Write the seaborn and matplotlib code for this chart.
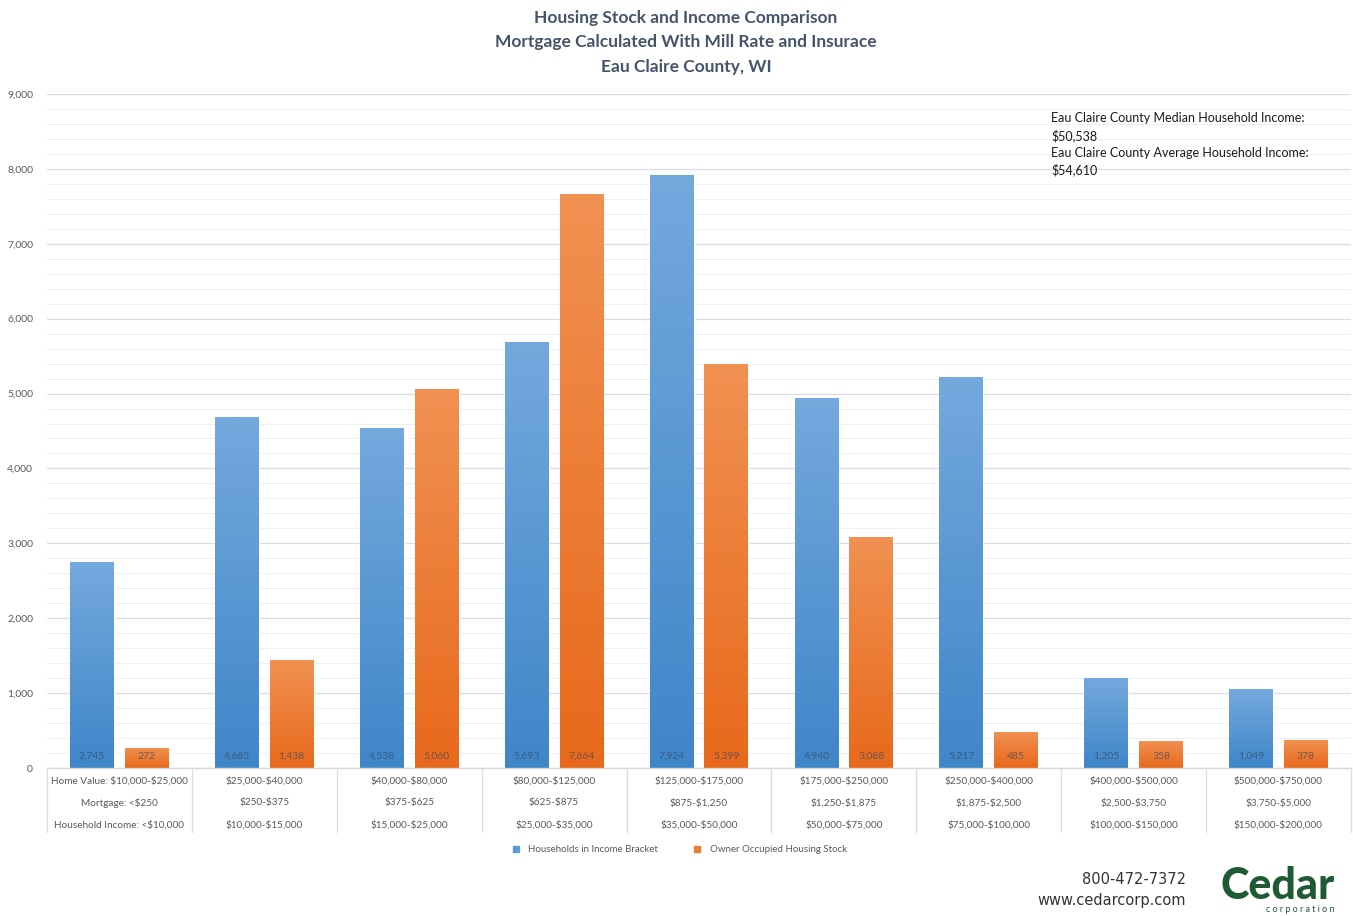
import numpy as np
import pandas as pd
import matplotlib
matplotlib.use("Agg")
import matplotlib.pyplot as plt
import matplotlib.transforms as mtransforms
from matplotlib.colors import LinearSegmentedColormap
from matplotlib.lines import Line2D
import seaborn as sns

# ---- data ----
home_values = ["$10,000-$25,000", "$25,000-$40,000", "$40,000-$80,000", "$80,000-$125,000",
               "$125,000-$175,000", "$175,000-$250,000", "$250,000-$400,000",
               "$400,000-$500,000", "$500,000-$750,000"]
mortgages = ["<$250", "$250-$375", "$375-$625", "$625-$875", "$875-$1,250",
             "$1,250-$1,875", "$1,875-$2,500", "$2,500-$3,750", "$3,750-$5,000"]
incomes = ["<$10,000", "$10,000-$15,000", "$15,000-$25,000", "$25,000-$35,000",
           "$35,000-$50,000", "$50,000-$75,000", "$75,000-$100,000",
           "$100,000-$150,000", "$150,000-$200,000"]
households = [2745, 4685, 4538, 5693, 7924, 4940, 5217, 1205, 1049]
owner_occupied = [272, 1438, 5060, 7664, 5399, 3088, 485, 358, 378]
series_names = ["Households in Income Bracket", "Owner Occupied Housing Stock"]

df = pd.DataFrame({
    "home": home_values * 2,
    "count": households + owner_occupied,
    "series": [series_names[0]] * len(households) + [series_names[1]] * len(owner_occupied),
})

sns.set_theme(style="white")
plt.rcParams["font.family"] = ["Lato", "DejaVu Sans"]

TXT = "#595959"
TITLE = "#44546a"
colors = {series_names[0]: "#5b9bd5", series_names[1]: "#ed7d31"}
grad = {
    series_names[0]: ("#3f86c9", "#74a9dd"),
    series_names[1]: ("#e8691b", "#f19152"),
}

fig = plt.figure(figsize=(13.53, 9.16), dpi=100)
ax = fig.add_axes([47 / 1353, 1 - 768 / 916, 1 - 47 / 1353 - 2 / 1353, (768 - 94) / 916])

sns.barplot(data=df, x="home", y="count", hue="series", order=home_values,
            hue_order=series_names, palette=colors, width=0.757, gap=0.2,
            ax=ax, legend=False, saturation=1)

ax.set_xlim(-0.5, len(home_values) - 0.5)
ax.set_ylim(0, 9000)
ax.set_yticks(np.arange(0, 9001, 1000))
ax.set_yticks(np.arange(0, 9001, 200), minor=True)
ax.set_yticklabels([f"{v:,}" for v in range(0, 9001, 1000)], fontsize=7.5, color=TXT)
ax.grid(axis="y", which="major", color="#d9dce3", lw=0.9)
ax.grid(axis="y", which="minor", color="#eef0f3", lw=0.8)
ax.set_axisbelow(True)
ax.tick_params(axis="y", which="both", length=0, pad=10)
ax.tick_params(axis="x", length=0)
ax.set_xticklabels([])
ax.set_xlabel("")
ax.set_ylabel("")
for s in ["top", "right", "left"]:
    ax.spines[s].set_visible(False)
ax.spines["bottom"].set_color("#d9d9d9")
ax.spines["bottom"].set_linewidth(1.0)

# vertical gradient fill on every bar, plus its value near the base
values_by_series = {series_names[0]: households, series_names[1]: owner_occupied}
for cont, name in zip(ax.containers, series_names):
    cmap = LinearSegmentedColormap.from_list(name, list(grad[name]))
    for patch, val in zip(cont.patches, values_by_series[name]):
        x0, y0 = patch.get_x(), patch.get_y()
        w, h = patch.get_width(), patch.get_height()
        img = ax.imshow(np.linspace(0, 1, 256).reshape(-1, 1), cmap=cmap, aspect="auto",
                        origin="lower", extent=[x0, x0 + w, y0, y0 + h], zorder=patch.get_zorder() + 0.1)
        img.set_clip_path(patch)
        ax.text(x0 + w / 2, 160, f"{val:,}", ha="center", va="center",
                fontsize=7.5, color="#3b4a61", alpha=0.7, zorder=5)
ax.set_xlim(-0.5, len(home_values) - 0.5)
ax.set_ylim(0, 9000)

# category table beneath the axis
trans = mtransforms.blended_transform_factory(ax.transData, ax.transAxes)
table_bottom = -(832 - 768) / 674
for b in np.arange(-0.5, len(home_values), 1.0):
    ax.plot([b, b], [0, table_bottom], transform=trans, color="#d9dce3", lw=0.9, clip_on=False)
row_y = [-(781 - 768) / 674, -(803 - 768) / 674, -(825 - 768) / 674]
for i, (hv, mg, inc) in enumerate(zip(home_values, mortgages, incomes)):
    if i == 0:
        hv, mg, inc = "Home Value: " + hv, "Mortgage: " + mg, "Household Income: " + inc
    for y, t in zip(row_y, (hv, mg, inc)):
        ax.text(i, y, t, transform=trans, ha="center", va="center", fontsize=7.2,
                color=TXT, parse_math=False)

# legend
handles = [Line2D([], [], marker="s", ls="", color=colors[n], markersize=4) for n in series_names]
fig.legend(handles, series_names, loc="center", bbox_to_anchor=(0.5, 1 - 850 / 916), ncol=2,
           frameon=False, fontsize=7, labelcolor=TXT, handletextpad=0.3, columnspacing=3)

# titles
for y, t in zip([18, 42, 67], ["Housing Stock and Income Comparison",
                                "Mortgage Calculated With Mill Rate and Insurace",
                                "Eau Claire County, WI"]):
    fig.text(686 / 1353, 1 - y / 916, t, ha="center", va="center", fontsize=12.5,
             fontweight="bold", color=TITLE)

# income note
note = ["Eau Claire County Median Household Income:", "$50,538",
        "Eau Claire County Average Household Income:", "$54,610"]
for k, t in enumerate(note):
    fig.text(1051 / 1353, 1 - (118 + k * 17.3) / 916, t, ha="left", va="center",
             fontsize=9, color="#1a1a1a", parse_math=False)

# contact footer
fig.text(1186 / 1353, 1 - 880 / 916, "800-472-7372", ha="right", va="center",
         fontsize=10.5, color="#333333", family=["DejaVu Sans"])
fig.text(1186 / 1353, 1 - 900 / 916, "www.cedarcorp.com", ha="right", va="center",
         fontsize=10.5, color="#333333", family=["DejaVu Sans"])
fig.text(1278 / 1353, 1 - 886 / 916, "Cedar", ha="center", va="center", fontsize=31,
         fontweight="black", color="#1f5a35")
fig.text(1300 / 1353, 1 - 909 / 916, "c o r p o r a t i o n", ha="center", va="center",
         fontsize=6.5, color="#1f5a35")

fig.savefig("out.png", dpi=100, facecolor="white")
